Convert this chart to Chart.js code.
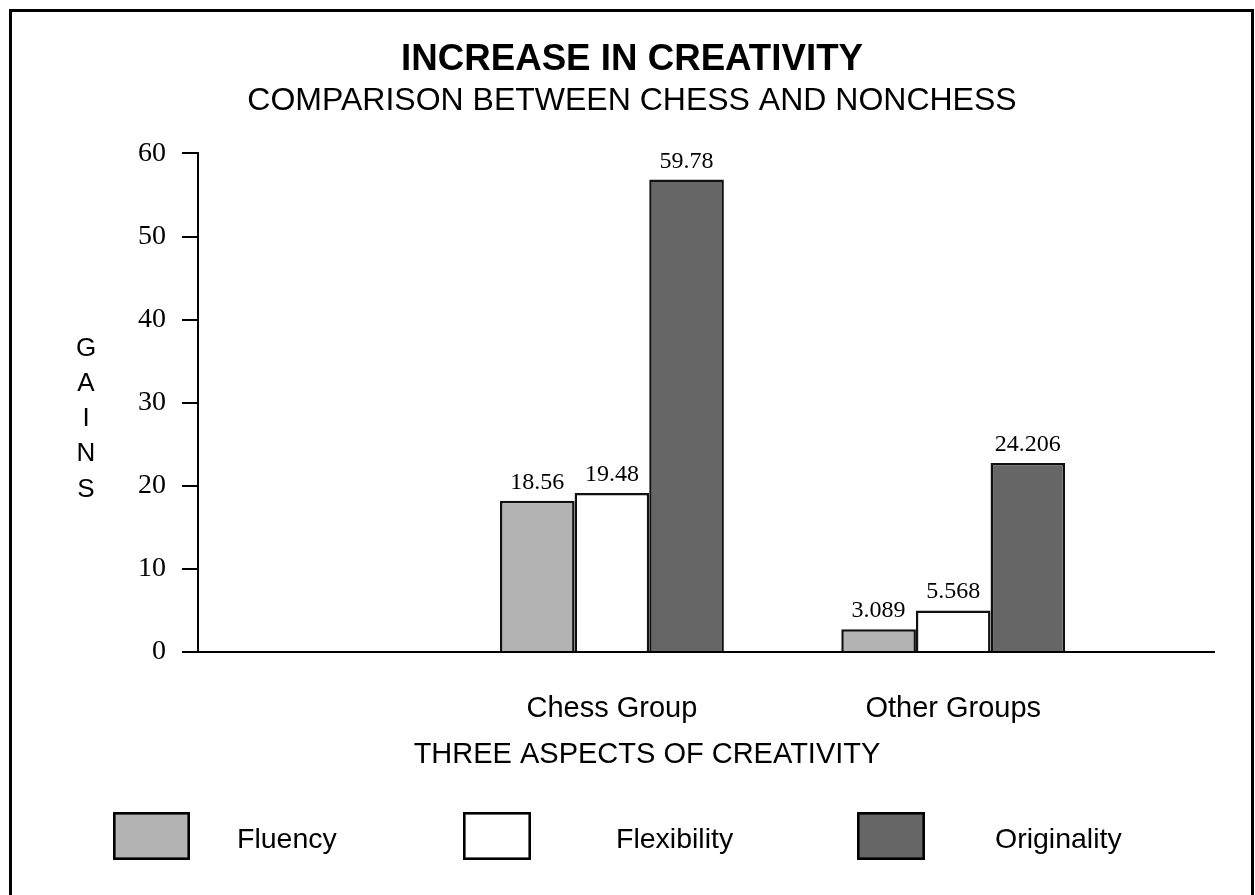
<!DOCTYPE html>
<html><head><meta charset="utf-8">
<script src="https://cdn.jsdelivr.net/npm/chart.js@4"></script>
<style>html,body{margin:0;padding:0;background:#fff;overflow:hidden;}</style>
</head><body>
<canvas id="c" width="1255" height="895"></canvas>
<script>
// ---- data ----
const groups = ['Chess Group', 'Other Groups'];
const seriesNames = ['Fluency', 'Flexibility', 'Originality'];
const fluency = [18.2, 2.75];
const flexibility = [19.15, 5.0];
const originality = [56.85, 22.75];
const fluencyLabels = ['18.56', '3.089'];
const flexibilityLabels = ['19.48', '5.568'];
const originalityLabels = ['59.78', '24.206'];
const yTicks = [0, 10, 20, 30, 40, 50, 60];
const titleText = 'INCREASE IN CREATIVITY';
const subtitleText = 'COMPARISON BETWEEN CHESS AND NONCHESS';
const xTitleText = 'THREE ASPECTS OF CREATIVITY';
const yTitleText = 'GAINS';

// ---- styles ----
const SANS = "'Liberation Sans', Arial, Helvetica, sans-serif";
const SERIF = "'Liberation Serif', 'Times New Roman', Times, serif";
const colors = ['#b3b3b3', '#ffffff', '#666666'];
const seriesValues = [fluency, flexibility, originality];
const seriesLabels = [fluencyLabels, flexibilityLabels, originalityLabels];

const datasets = seriesNames.map((name, s) => ({
  label: name,
  data: groups.map((g, i) => ({ x: i + 1, y: seriesValues[s][i] })),
  backgroundColor: colors[s],
  borderColor: '#111',
  borderWidth: 2.5,
  barPercentage: 1.0,
  categoryPercentage: 0.656
}));

const framePlugin = {
  id: 'frame',
  beforeDraw(chart) {
    const ctx = chart.ctx;
    ctx.save();
    ctx.fillStyle = '#fff';
    ctx.fillRect(0, 0, chart.width, chart.height);
    ctx.restore();
  },
  afterDraw(chart) {
    const ctx = chart.ctx;
    ctx.save();
    ctx.strokeStyle = '#000';
    ctx.lineWidth = 3;
    ctx.strokeRect(10.5, 10.5, 1242, 1000);
    ctx.restore();
  }
};

const valueLabelPlugin = {
  id: 'valueLabels',
  afterDatasetsDraw(chart) {
    const ctx = chart.ctx;
    ctx.save();
    ctx.fillStyle = '#000';
    ctx.font = '24px ' + SERIF;
    ctx.textAlign = 'center';
    ctx.textBaseline = 'alphabetic';
    chart.data.datasets.forEach((ds, s) => {
      const meta = chart.getDatasetMeta(s);
      meta.data.forEach((bar, i) => {
        ctx.fillText(seriesLabels[s][i], bar.x, bar.y - 12);
      });
    });
    ctx.restore();
  }
};

const extrasPlugin = {
  id: 'extras',
  afterDraw(chart) {
    const ctx = chart.ctx;
    ctx.save();
    ctx.fillStyle = '#000';
    // x axis title
    ctx.font = '29px ' + SANS;
    ctx.textAlign = 'center';
    ctx.textBaseline = 'alphabetic';
    ctx.fillText(xTitleText, 647, 763);
    // y axis title (stacked letters)
    ctx.font = '26px ' + SANS;
    yTitleText.split('').forEach((ch, i) => {
      ctx.fillText(ch, 86, 355.5 + 35.3 * i);
    });
    // legend
    const boxes = [[113, 77], [463, 68], [857, 68]];
    const textX = [237, 616, 995];
    chart.data.datasets.forEach((ds, s) => {
      ctx.fillStyle = ds.backgroundColor;
      ctx.fillRect(boxes[s][0], 812, boxes[s][1], 48);
      ctx.strokeStyle = '#000';
      ctx.lineWidth = 2.6;
      ctx.strokeRect(boxes[s][0] + 1.3, 813.3, boxes[s][1] - 2.6, 45.4);
      ctx.fillStyle = '#000';
      ctx.font = '28.5px ' + SANS;
      ctx.textAlign = 'left';
      ctx.fillText(ds.label, textX[s], 848);
    });
    ctx.restore();
  }
};

new Chart(document.getElementById('c'), {
  type: 'bar',
  data: { datasets },
  plugins: [framePlugin, valueLabelPlugin, extrasPlugin],
  options: {
    responsive: false,
    animation: false,
    devicePixelRatio: 1,
    layout: { padding: { top: 0, left: 50, right: 41, bottom: 0 } },
    plugins: {
      legend: { display: false },
      tooltip: { enabled: false },
      title: {
        display: true, text: titleText, color: '#000',
        font: { family: SANS, size: 36.7, weight: 'bold', lineHeight: 1.2 },
        padding: { top: 38, bottom: 0 }
      },
      subtitle: {
        display: true, text: subtitleText, color: '#000',
        font: { family: SANS, size: 32, weight: 'normal', lineHeight: 1.2 },
        padding: { top: 0, bottom: 33 }
      }
    },
    scales: {
      x: {
        type: 'linear', min: -0.2127, max: 2.764, offset: false,
        grid: { display: false, drawTicks: false, offset: false },
        border: { display: true, color: '#000', width: 2 },
        afterBuildTicks: (s) => { s.ticks = groups.map((g, i) => ({ value: i + 1 })); },
        ticks: {
          callback: (v) => groups[v - 1] ?? '',
          color: '#000', font: { family: SANS, size: 29 }, padding: 40,
          maxRotation: 0, autoSkip: false
        },
        afterFit: (s) => { s.height = 243; }
      },
      y: {
        type: 'linear', min: 0, max: 60,
        afterBuildTicks: (s) => { s.ticks = yTicks.map(v => ({ value: v })); },
        grid: { drawOnChartArea: false, drawTicks: true, tickLength: 16, color: '#000', lineWidth: 2 },
        border: { display: true, color: '#000', width: 2 },
        ticks: { color: '#000', font: { family: SERIF, size: 28 }, padding: 16 },
        afterFit: (s) => { s.width = 148; }
      }
    }
  }
});
</script>
</body></html>
